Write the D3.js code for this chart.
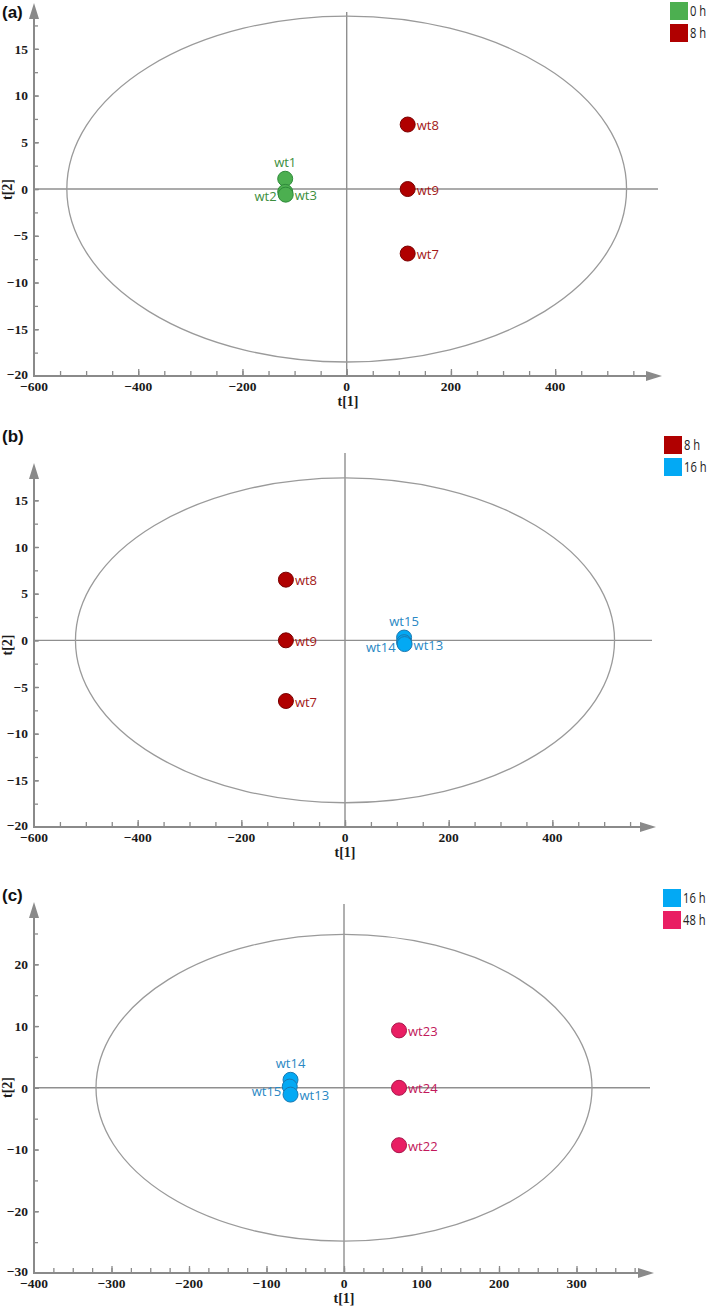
<!DOCTYPE html>
<html>
<head>
<meta charset="utf-8">
<script src="https://cdn.jsdelivr.net/npm/d3@7"></script>
<style>
  html, body { margin: 0; padding: 0; background: #fff; }
  svg { display: block; }
  .tick-lbl { font-family: "Liberation Serif", "Times New Roman", serif; font-weight: bold; font-size: 13.5px; fill: #1a1a1a; }
  .ax-title { font-family: "Liberation Serif", "Times New Roman", serif; font-weight: bold; font-size: 14px; fill: #1a1a1a; }
  .pt-lbl { font-family: "Open Sans", "Noto Sans", sans-serif; font-size: 13px; }
  .lg-lbl { font-family: "Open Sans", "Noto Sans", sans-serif; font-size: 14px; fill: #222; }
  .tag { font-family: "Liberation Sans", Arial, sans-serif; font-weight: bold; font-size: 17px; fill: #111; }
</style>
</head>
<body>
<div id="chart"></div>
<script>
// ---------------- DATA ----------------
// Panel (a): 0 h vs 8 h
const aSamples = ["wt1", "wt2", "wt3", "wt8", "wt9", "wt7"];
const aGroups  = ["0 h", "0 h", "0 h", "8 h", "8 h", "8 h"];
const aT1      = [-118, -118, -117, 117, 117, 117];
const aT2      = [1.1, -0.3, -0.6, 6.9, 0.0, -6.9];
const aLegend  = ["0 h", "8 h"];
const aXTicks  = [-600, -400, -200, 0, 200, 400];
const aYTicks  = [-20, -15, -10, -5, 0, 5, 10, 15];
const aEllipse = [537, 18.5];

// Panel (b): 8 h vs 16 h
const bSamples = ["wt8", "wt9", "wt7", "wt15", "wt14", "wt13"];
const bGroups  = ["8 h", "8 h", "8 h", "16 h", "16 h", "16 h"];
const bT1      = [-114, -114, -114, 114, 114, 115];
const bT2      = [6.5, 0.0, -6.5, 0.3, -0.2, -0.4];
const bLegend  = ["8 h", "16 h"];
const bXTicks  = [-600, -400, -200, 0, 200, 400];
const bYTicks  = [-20, -15, -10, -5, 0, 5, 10, 15];
const bEllipse = [520, 17.4];

// Panel (c): 16 h vs 48 h
const cSamples = ["wt14", "wt15", "wt13", "wt23", "wt24", "wt22"];
const cGroups  = ["16 h", "16 h", "16 h", "48 h", "48 h", "48 h"];
const cT1      = [-69, -70, -69, 71, 71, 71];
const cT2      = [1.3, 0.2, -1.1, 9.3, 0.0, -9.3];
const cLegend  = ["16 h", "48 h"];
const cXTicks  = [-400, -300, -200, -100, 0, 100, 200, 300];
const cYTicks  = [-30, -20, -10, 0, 10, 20];
const cEllipse = [320, 24.85];

// ---------------- STYLE ----------------
const groupFill   = {"0 h": "#4CAF50", "8 h": "#B00000", "16 h": "#03A9F4", "48 h": "#E91E63"};
const groupStroke = {"0 h": "#2E8B3A", "8 h": "#7A0000", "16 h": "#1B78B0", "48 h": "#A8144A"};
const groupText   = {"0 h": "#3C8E3C", "8 h": "#A31818", "16 h": "#2A88C4", "48 h": "#C2185B"};

const AXIS_COL = "#8a8a8a";
const LINE_COL = "#8f8f8f";
const fmt = v => (v < 0 ? "\u2212" : "") + Math.abs(v);

const W = 709, H = 1308;
const svg = d3.select("#chart").append("svg").attr("width", W).attr("height", H);

// label placement per sample (layout only)
const labelPlacement = {
  a: ["above", "left", "right", "right", "right", "right"],
  b: ["right", "right", "right", "above", "left", "right"],
  c: ["above", "left", "right", "right", "right", "right"]
};

const panels = [
  { key: "a", tag: "(a)", samples: aSamples, groups: aGroups, t1: aT1, t2: aT2, legend: aLegend,
    xTicks: aXTicks, yTicks: aYTicks, ellipse: aEllipse,
    xDom: [-600, 605], xRange: [34, 662], yDom: [-20, 19.9], yRange: [376, 3],
    xMinor: 50, yMinor: 2.5, tagY: 18, legendX: 670, legendY: 2, vTop: 12 },
  { key: "b", tag: "(b)", samples: bSamples, groups: bGroups, t1: bT1, t2: bT2, legend: bLegend,
    xTicks: bXTicks, yTicks: bYTicks, ellipse: bEllipse,
    xDom: [-600, 600], xRange: [34, 656], yDom: [-20, 19], yRange: [827, 463],
    xMinor: 50, yMinor: 2.5, tagY: 442, legendX: 664, legendY: 436, vTop: 453 },
  { key: "c", tag: "(c)", samples: cSamples, groups: cGroups, t1: cT1, t2: cT2, legend: cLegend,
    xTicks: cXTicks, yTicks: cYTicks, ellipse: cEllipse,
    xDom: [-400, 400], xRange: [34, 654], yDom: [-30, 30.1], yRange: [1273, 902],
    xMinor: 25, yMinor: 5, tagY: 901, legendX: 663, legendY: 889, vTop: 904 }
];

function range(a, b, step) {
  const out = [];
  for (let v = a; v <= b + 1e-9; v += step) out.push(+v.toFixed(6));
  return out;
}

panels.forEach(p => {
  const g = svg.append("g");
  const x = d3.scaleLinear().domain(p.xDom).range(p.xRange);
  const y = d3.scaleLinear().domain(p.yDom).range(p.yRange);
  const x0 = p.xRange[0], x1 = p.xRange[1];
  const yB = p.yRange[0], yT = p.yRange[1];
  const arrowLen = 16, arrowHalf = 5;

  // zero lines
  g.append("line").attr("x1", x0).attr("x2", x1 - 4).attr("y1", y(0)).attr("y2", y(0))
    .attr("stroke", LINE_COL).attr("stroke-width", 1.4);
  g.append("line").attr("x1", x(0)).attr("x2", x(0)).attr("y1", p.vTop).attr("y2", yB)
    .attr("stroke", LINE_COL).attr("stroke-width", 1.4);

  // ellipse (Hotelling T2)
  g.append("ellipse")
    .attr("cx", x(0)).attr("cy", y(0))
    .attr("rx", x(p.ellipse[0]) - x(0))
    .attr("ry", y(0) - y(p.ellipse[1]))
    .attr("fill", "none").attr("stroke", "#9a9a9a").attr("stroke-width", 1.3);

  const styleTicks = s => {
    s.select(".domain").remove();
    s.selectAll("line").attr("stroke", AXIS_COL).attr("stroke-width", 1.3);
    s.selectAll("text").remove();
  };

  // X axis ticks (minor + major), pointing inward
  const xMinorVals = range(p.xDom[0], p.xDom[1] - 20, p.xMinor).filter(v => v > p.xDom[0]);
  g.append("g").attr("transform", `translate(0,${yB})`)
    .call(d3.axisBottom(x).tickValues(xMinorVals).tickSize(-5).tickFormat(""))
    .call(styleTicks);
  g.append("g").attr("transform", `translate(0,${yB})`)
    .call(d3.axisBottom(x).tickValues(p.xTicks.filter(v => v > p.xDom[0])).tickSize(-7).tickFormat(""))
    .call(styleTicks);
  g.selectAll("text.xl").data(p.xTicks).enter().append("text")
    .attr("class", "tick-lbl xl")
    .attr("x", d => x(d)).attr("y", yB + 15)
    .attr("text-anchor", "middle")
    .text(fmt);

  // Y axis ticks
  const yMinorVals = range(p.yDom[0], p.yDom[1] - 1, p.yMinor).filter(v => v > p.yDom[0]);
  g.append("g").attr("transform", `translate(${x0},0)`)
    .call(d3.axisLeft(y).tickValues(yMinorVals).tickSize(-4).tickFormat(""))
    .call(styleTicks);
  g.append("g").attr("transform", `translate(${x0},0)`)
    .call(d3.axisLeft(y).tickValues(p.yTicks.filter(v => v > p.yDom[0])).tickSize(-5).tickFormat(""))
    .call(styleTicks);
  g.selectAll("text.yl").data(p.yTicks).enter().append("text")
    .attr("class", "tick-lbl yl")
    .attr("x", x0 - 6).attr("y", d => y(d) - (d === p.yDom[0] ? 2 : 0)).attr("dy", "0.35em")
    .attr("text-anchor", "end")
    .text(fmt);

  // axis lines with arrows
  g.append("line").attr("x1", x0).attr("x2", x1 - arrowLen + 1).attr("y1", yB).attr("y2", yB)
    .attr("stroke", AXIS_COL).attr("stroke-width", 2);
  g.append("path").attr("d", `M${x1},${yB} L${x1 - arrowLen},${yB - arrowHalf} L${x1 - arrowLen},${yB + arrowHalf} Z`)
    .attr("fill", AXIS_COL);
  g.append("line").attr("x1", x0).attr("x2", x0).attr("y1", yB + 1).attr("y2", yT + arrowLen - 1)
    .attr("stroke", AXIS_COL).attr("stroke-width", 2);
  g.append("path").attr("d", `M${x0},${yT} L${x0 - arrowHalf},${yT + arrowLen} L${x0 + arrowHalf},${yT + arrowLen} Z`)
    .attr("fill", AXIS_COL);

  // axis titles
  g.append("text").attr("class", "ax-title").attr("x", (x0 + x1) / 2).attr("y", yB + 30)
    .attr("text-anchor", "middle").text("t[1]");
  g.append("text").attr("class", "ax-title")
    .attr("transform", `translate(12,${(yB + yT) / 2}) rotate(-90)`)
    .attr("text-anchor", "middle").text("t[2]");

  // panel tag
  g.append("text").attr("class", "tag").attr("x", 2).attr("y", p.tagY).text(p.tag);

  // points
  const pts = p.samples.map((s, i) => ({ s, g: p.groups[i], t1: p.t1[i], t2: p.t2[i], pos: labelPlacement[p.key][i] }));
  const r = 7.5;
  g.selectAll("circle.pt").data(pts).enter().append("circle")
    .attr("class", "pt")
    .attr("cx", d => x(d.t1)).attr("cy", d => y(d.t2)).attr("r", r)
    .attr("fill", d => groupFill[d.g]).attr("stroke", d => groupStroke[d.g]).attr("stroke-width", 1);

  g.selectAll("text.lbl").data(pts).enter().append("text")
    .attr("class", "pt-lbl lbl")
    .attr("x", d => d.pos === "above" ? x(d.t1) : d.pos === "left" ? x(d.t1) - r - 1 : x(d.t1) + r + 1.5)
    .attr("y", d => d.pos === "above" ? y(d.t2) - 12 : y(d.t2) + 1 + (d.pos === "left" ? 4 : 0))
    .attr("dy", d => d.pos === "above" ? 0 : "0.35em")
    .attr("text-anchor", d => d.pos === "above" ? "middle" : d.pos === "left" ? "end" : "start")
    .attr("fill", d => groupText[d.g])
    .text(d => d.s);

  // legend
  const lg = g.append("g").attr("transform", `translate(${p.legendX},${p.legendY})`);
  p.legend.forEach((name, i) => {
    lg.append("rect").attr("x", 0).attr("y", i * 22).attr("width", 18).attr("height", 18)
      .attr("fill", groupFill[name]);
    lg.append("text").attr("class", "lg-lbl")
      .attr("transform", `translate(20,${i * 22 + 9}) scale(0.8,1)`)
      .attr("dy", "0.35em")
      .text(name);
  });
});
</script>
</body>
</html>
